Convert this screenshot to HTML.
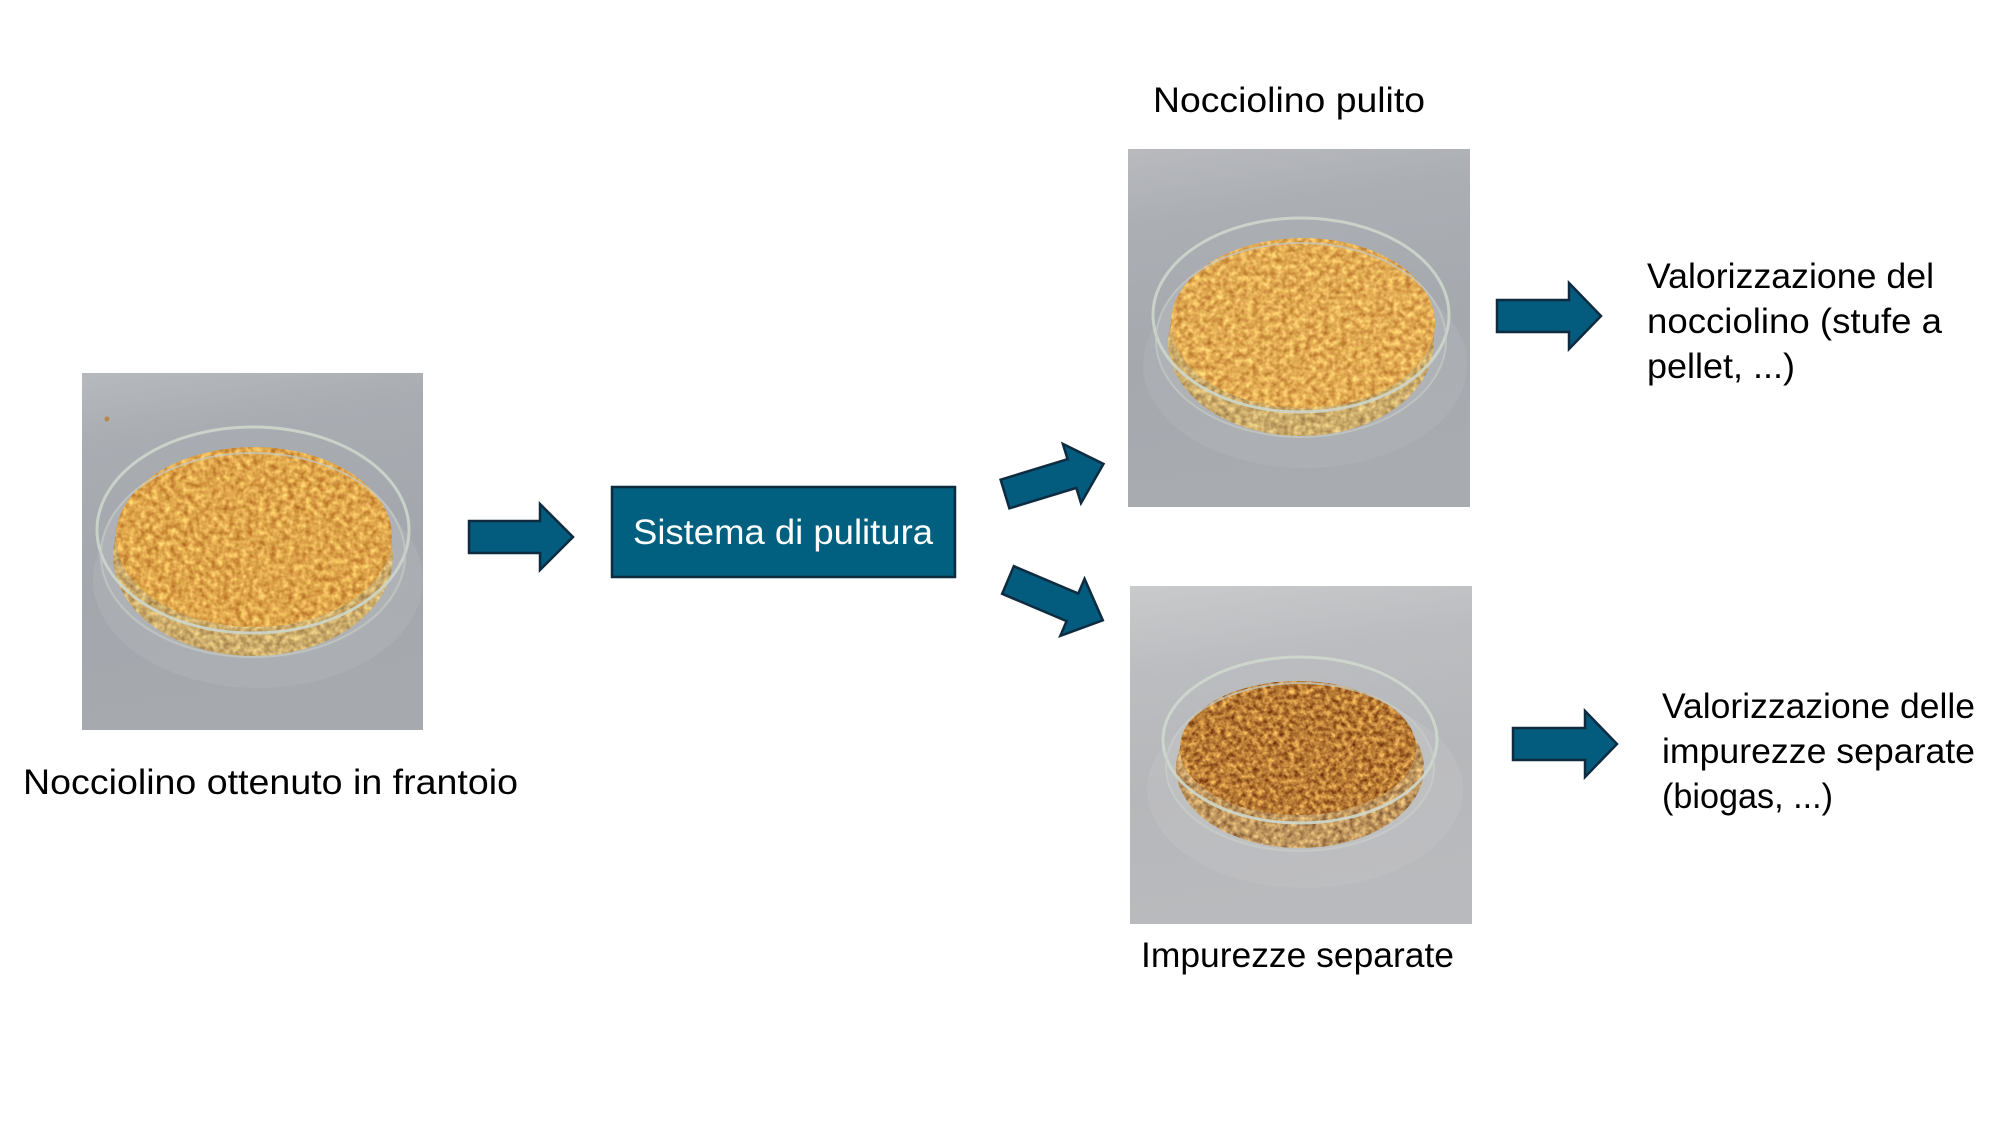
<!DOCTYPE html>
<html>
<head>
<meta charset="utf-8">
<style>
  html,body{margin:0;padding:0;background:#fff;}
  svg{display:block;}
  text{font-family:"Liberation Sans", Arial, sans-serif;}
</style>
</head>
<body>
<svg xmlns="http://www.w3.org/2000/svg" width="2000" height="1125" viewBox="0 0 2000 1125">
  <defs>
    <filter id="fy" x="0" y="0" width="1" height="1" color-interpolation-filters="sRGB">
      <feTurbulence type="fractalNoise" baseFrequency="0.17" numOctaves="2" seed="3"/>
      <feColorMatrix type="matrix" values="0.45 0 0 0 0.65  0.6 0 0 0 0.35  0.45 0 0 0 0.07  0 0 0 0 1"/>
    </filter>
    <filter id="fy2" x="0" y="0" width="1" height="1" color-interpolation-filters="sRGB">
      <feTurbulence type="fractalNoise" baseFrequency="0.17" numOctaves="2" seed="11"/>
      <feColorMatrix type="matrix" values="0.45 0 0 0 0.66  0.6 0 0 0 0.37  0.45 0 0 0 0.1  0 0 0 0 1"/>
    </filter>
    <filter id="fb" x="0" y="0" width="1" height="1" color-interpolation-filters="sRGB">
      <feTurbulence type="fractalNoise" baseFrequency="0.19" numOctaves="3" seed="7"/>
      <feColorMatrix type="matrix" values="0.85 0 0 0 0.3  0.85 0 0 0 0.06  0.5 0 0 0 -0.04  0 0 0 0 1"/>
    </filter>
    <filter id="fp" x="0" y="0" width="1" height="1" color-interpolation-filters="sRGB">
      <feTurbulence type="fractalNoise" baseFrequency="0.17" numOctaves="2" seed="5"/>
      <feColorMatrix type="matrix" values="0.5 0 0 0 0.55  0.55 0 0 0 0.4  0.4 0 0 0 0.22  0 0 0 0 1"/>
    </filter>
    <filter id="fpb" x="0" y="0" width="1" height="1" color-interpolation-filters="sRGB">
      <feTurbulence type="fractalNoise" baseFrequency="0.18" numOctaves="2" seed="9"/>
      <feColorMatrix type="matrix" values="0.7 0 0 0 0.4  0.7 0 0 0 0.24  0.5 0 0 0 0.12  0 0 0 0 1"/>
    </filter>

    <linearGradient id="bg1" x1="0" y1="0" x2="0.15" y2="1">
      <stop offset="0" stop-color="#b6b9bd"/>
      <stop offset="0.2" stop-color="#a9adb2"/>
      <stop offset="0.6" stop-color="#a3a7ad"/>
      <stop offset="1" stop-color="#a6aaaf"/>
    </linearGradient>
    <linearGradient id="bg2" x1="0" y1="0" x2="0.15" y2="1">
      <stop offset="0" stop-color="#b8babe"/>
      <stop offset="0.22" stop-color="#abaeb3"/>
      <stop offset="0.6" stop-color="#a5a9ae"/>
      <stop offset="1" stop-color="#a8acb1"/>
    </linearGradient>
    <linearGradient id="bg3" x1="0" y1="0" x2="0.15" y2="1">
      <stop offset="0" stop-color="#c9cacc"/>
      <stop offset="0.25" stop-color="#bcbdc0"/>
      <stop offset="0.6" stop-color="#b5b7ba"/>
      <stop offset="1" stop-color="#b9babd"/>
    </linearGradient>

    <clipPath id="p1"><rect x="82" y="373" width="341" height="357"/></clipPath>
    <clipPath id="p2"><rect x="1128" y="149" width="342" height="358"/></clipPath>
    <clipPath id="p3"><rect x="1130" y="586" width="342" height="338"/></clipPath>

    <clipPath id="h1"><ellipse cx="254" cy="537" rx="138" ry="90"/></clipPath>
    <clipPath id="b1"><ellipse cx="253" cy="556" rx="140" ry="100"/></clipPath>
    <clipPath id="h2"><ellipse cx="1303" cy="323" rx="132" ry="85"/></clipPath>
    <clipPath id="b2"><ellipse cx="1301" cy="342" rx="133" ry="94"/></clipPath>
    <clipPath id="h3"><ellipse cx="1298" cy="748" rx="118" ry="67"/></clipPath>
    <clipPath id="b3"><ellipse cx="1300" cy="768" rx="124" ry="80"/></clipPath>
  </defs>

  <rect x="0" y="0" width="2000" height="1125" fill="#ffffff"/>

  <!-- ===== Photo 1 ===== -->
  <g clip-path="url(#p1)">
    <rect x="82" y="373" width="341" height="357" fill="url(#bg1)"/>
    <ellipse cx="258" cy="580" rx="165" ry="108" fill="#b3b6ba" opacity="0.4"/>
    <ellipse cx="253" cy="556" rx="154" ry="103" fill="#aeb1b5"/>
    <g clip-path="url(#b1)"><rect x="110" y="450" width="290" height="210" filter="url(#fp)"/></g>
    <g clip-path="url(#h1)"><rect x="112" y="444" width="286" height="188" filter="url(#fy)"/></g>
    <ellipse cx="253" cy="530" rx="156" ry="103" fill="none" stroke="#cdd6cc" stroke-width="3" opacity="0.9"/>
    <ellipse cx="253" cy="555" rx="152" ry="102" fill="none" stroke="#c4cbc4" stroke-width="2" opacity="0.7"/>
    <circle cx="107" cy="419" r="2.5" fill="#b8874a"/>
  </g>

  <!-- ===== Photo 2 ===== -->
  <g clip-path="url(#p2)">
    <rect x="1128" y="149" width="342" height="358" fill="url(#bg2)"/>
    <ellipse cx="1305" cy="365" rx="162" ry="103" fill="#b4b7bb" opacity="0.4"/>
    <ellipse cx="1301" cy="340" rx="146" ry="97" fill="#afb2b6"/>
    <g clip-path="url(#b2)"><rect x="1165" y="240" width="275" height="200" filter="url(#fp)"/></g>
    <g clip-path="url(#h2)"><rect x="1168" y="235" width="270" height="176" filter="url(#fy2)"/></g>
    <ellipse cx="1301" cy="315" rx="148" ry="97" fill="none" stroke="#cdd6cc" stroke-width="3" opacity="0.9"/>
    <ellipse cx="1301" cy="340" rx="145" ry="97" fill="none" stroke="#c4cbc4" stroke-width="2" opacity="0.7"/>
  </g>

  <!-- ===== Photo 3 ===== -->
  <g clip-path="url(#p3)">
    <rect x="1130" y="586" width="342" height="338" fill="url(#bg3)"/>
    <ellipse cx="1305" cy="790" rx="158" ry="98" fill="#c3c4c6" opacity="0.45"/>
    <ellipse cx="1300" cy="768" rx="135" ry="83" fill="#bfc0c2"/>
    <g clip-path="url(#b3)"><rect x="1172" y="685" width="256" height="170" filter="url(#fpb)"/></g>
    <g clip-path="url(#h3)"><rect x="1178" y="680" width="242" height="136" filter="url(#fb)"/></g>
    <ellipse cx="1300" cy="740" rx="137" ry="83" fill="none" stroke="#cfd8cd" stroke-width="3" opacity="0.9"/>
    <ellipse cx="1300" cy="767" rx="134" ry="84" fill="none" stroke="#c8cfc8" stroke-width="2" opacity="0.7"/>
  </g>

  <!-- ===== Arrows ===== -->
  <g fill="#035b7d" stroke="#0e2b40" stroke-width="2.5" stroke-linejoin="miter">
    <polygon transform="translate(469,537)" points="0,-16 71,-16 71,-33 104,0 71,33 71,16 0,16"/>
    <polygon transform="translate(1497,316)" points="0,-16 72,-16 72,-33 104,0 72,33 72,16 0,16"/>
    <polygon transform="translate(1513,744)" points="0,-16 72,-16 72,-33 104,0 72,33 72,16 0,16"/>
    <polygon transform="translate(1005,494) rotate(-17)" points="0,-15 70,-15 70,-31 103,0 70,31 70,15 0,15"/>
    <polygon transform="translate(1008,580) rotate(23)" points="0,-15 70,-15 70,-31 103,0 70,31 70,15 0,15"/>
  </g>

  <!-- ===== Box ===== -->
  <rect x="612" y="487" width="343" height="90" fill="#01607f" stroke="#0d2a3f" stroke-width="2.5"/>
  <text x="633" y="544" font-size="35" fill="#ffffff" textLength="300" lengthAdjust="spacingAndGlyphs">Sistema di pulitura</text>

  <!-- ===== Labels ===== -->
  <g fill="#000000" font-size="35">
    <text x="23" y="794" textLength="495" lengthAdjust="spacingAndGlyphs">Nocciolino ottenuto in frantoio</text>
    <text x="1153" y="112" textLength="272" lengthAdjust="spacingAndGlyphs">Nocciolino pulito</text>
    <text x="1141" y="967" textLength="313" lengthAdjust="spacingAndGlyphs">Impurezze separate</text>

    <text x="1647" y="288" textLength="287" lengthAdjust="spacingAndGlyphs">Valorizzazione del</text>
    <text x="1647" y="333" textLength="295" lengthAdjust="spacingAndGlyphs">nocciolino (stufe a</text>
    <text x="1647" y="378" textLength="148" lengthAdjust="spacingAndGlyphs">pellet, ...)</text>

    <text x="1662" y="718" textLength="313" lengthAdjust="spacingAndGlyphs">Valorizzazione delle</text>
    <text x="1662" y="763" textLength="313" lengthAdjust="spacingAndGlyphs">impurezze separate</text>
    <text x="1662" y="808" textLength="171" lengthAdjust="spacingAndGlyphs">(biogas, ...)</text>
  </g>
</svg>
</body>
</html>
